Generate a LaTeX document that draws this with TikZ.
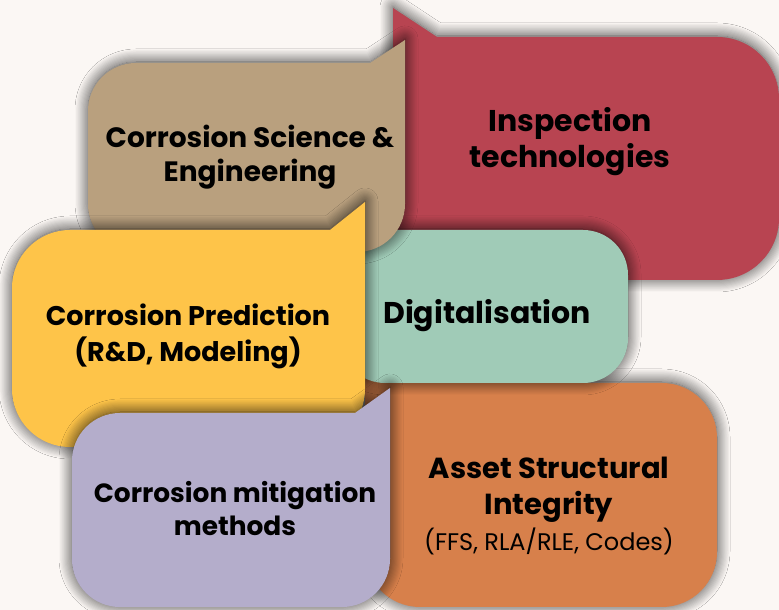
\documentclass[tikz,border=0pt]{standalone}
\usepackage{fontspec}
\setmainfont{Poppins}
\usetikzlibrary{shadows.blur}

\definecolor{paper}{HTML}{FBF7F4}
\definecolor{inspred}{HTML}{B84451}
\definecolor{sciTan}{HTML}{B9A07E}
\definecolor{digiTeal}{HTML}{A0CBB7}
\definecolor{predYellow}{HTML}{FEC449}
\definecolor{mitigLav}{HTML}{B4ADCB}
\definecolor{assetOrange}{HTML}{D7804B}

% bubble with its tip at the top right corner
% #1 colour, #2 left, #3 bottom, #4 right, #5 top, #6 tip y, #7 slope x, #8 radius
\newcommand{\calloutTR}[8]{%
  \path[bubble, fill=#1] (#4,#6) -- (#4,#3+#8)
    arc[start angle=0, end angle=-90, radius=#8] -- (#2+#8,#3)
    arc[start angle=270, end angle=180, radius=#8] -- (#2,#5-#8)
    arc[start angle=180, end angle=90, radius=#8] -- (#7,#5) -- cycle;}
% bubble with its tip at the top left corner
\newcommand{\calloutTL}[8]{%
  \path[bubble, fill=#1] (#2,#6) -- (#7,#5) -- (#4-#8,#5)
    arc[start angle=90, end angle=0, radius=#8] -- (#4,#3+#8)
    arc[start angle=0, end angle=-90, radius=#8] -- (#2+#8,#3)
    arc[start angle=270, end angle=180, radius=#8] -- cycle;}

\tikzset{
  bubble/.style={blur shadow={shadow xshift=0pt, shadow yshift=1pt,
      shadow blur radius=13pt, shadow blur steps=12, shadow opacity=80}},
  head/.style={align=center, text=black,
      font=\fontsize{28}{34}\selectfont\bfseries},
  bighead/.style={head, font=\fontsize{30}{36}\selectfont\bfseries}
}

\begin{document}
\begin{tikzpicture}[x=1pt,y=1pt]
  \useasboundingbox (0,0) rectangle (779,610);
  \fill[paper] (0,0) rectangle (779,610);

  % back to front
  \calloutTL{inspred}{393}{330}{779}{573}{602}{437}{62}
  \calloutTL{assetOrange}{365}{3}{717}{227}{250}{397}{55}
  \path[bubble, fill=digiTeal, rounded corners=45] (340,227) rectangle (628,380);
  \calloutTR{sciTan}{88}{358}{405}{547}{570}{370}{48}
  \calloutTR{predYellow}{12}{163}{365}{380}{408}{330}{58}
  \calloutTR{mitigLav}{72}{3}{390}{197}{222}{355}{48}

  \node[head]    (sci)   at (250,453) {Corrosion Science \&\\Engineering};
  \node[bighead] (insp)  at (570,468) {Inspection\\technologies};
  \node[head, font=\fontsize{27}{36}\selectfont\bfseries]
                 (pred)  at (188,274) {Corrosion Prediction\\(R\&D, Modeling)};
  \node[bighead] (digi)  at (487,294) {Digitalisation};
  \node[head, font=\fontsize{26.4}{33}\selectfont\bfseries]
                 (mitig) at (235,101) {Corrosion mitigation\\methods};
  \node[bighead, font=\fontsize{29}{36}\selectfont\bfseries] (asset) at (549,104)
    {Asset Structural\\Integrity\\{\fontsize{24}{34}\selectfont\mdseries (FFS, RLA/RLE, Codes)}};
\end{tikzpicture}
\end{document}
